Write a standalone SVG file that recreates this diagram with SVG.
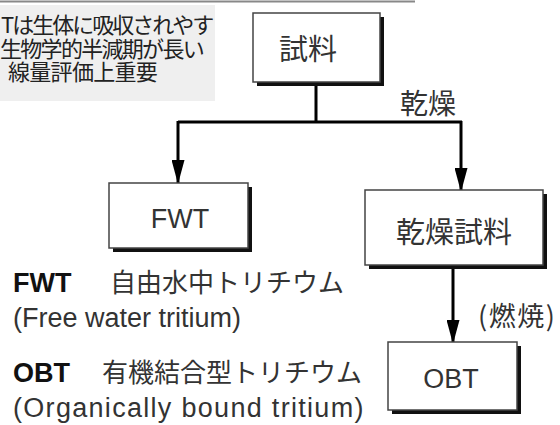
<svg xmlns="http://www.w3.org/2000/svg" width="560" height="425" viewBox="0 0 560 425">
<defs>
<style>
.jp{font-family:"Noto Sans CJK JP","Noto Sans",sans-serif;fill:#333}
.en{font-family:"Liberation Sans",Arial,sans-serif;fill:#333}
.box{fill:#fff;stroke:#444;stroke-width:1.5}
.sh{fill:#111}
.ln{stroke:#000;stroke-width:3;fill:none}
.note{font-family:"Noto Sans CJK JP","Noto Sans",sans-serif;fill:#222;font-size:22px}
</style>
<marker id="ah" markerWidth="24" markerHeight="13" refX="23" refY="6.5" orient="auto" markerUnits="userSpaceOnUse" viewBox="0 0 24 13">
<path d="M0,0 L24,6.5 L0,13 Z" fill="#000"/>
</marker>
</defs>
<rect width="560" height="425" fill="#fff"/>
<line x1="0" y1="1.5" x2="415" y2="1.5" stroke="#888" stroke-width="2"/>
<g id="note">
<rect x="0" y="5" width="215" height="96" fill="#efefef"/>
<text class="note" x="1" y="33" letter-spacing="-2">Tは生体に吸収されやす</text>
<text class="note" x="0" y="57" letter-spacing="-1.7">生物学的半減期が長い</text>
<text class="note" x="8" y="80" letter-spacing="-0.7">線量評価上重要</text>
</g>
<g id="connectors">
<path class="ln" d="M316,82 V122 M178,122 H462"/>
<path class="ln" d="M178,121 V183" marker-end="url(#ah)"/>
<path class="ln" d="M461,121 V191" marker-end="url(#ah)"/>
<path class="ln" d="M453,265 V343" marker-end="url(#ah)"/>
<text class="jp" x="400" y="114" font-size="28">乾燥</text>
<text class="jp" x="478" y="326" font-size="27" letter-spacing="1.5">(燃焼)</text>
</g>
<g id="shiryo">
<rect class="sh" x="257" y="17" width="127" height="69"/>
<rect class="box" x="253" y="13" width="127" height="69"/>
<text class="jp" x="308" y="60" font-size="29" text-anchor="middle">試料</text>
</g>
<g id="fwt">
<rect class="sh" x="113" y="187" width="139" height="65"/>
<rect class="box" x="109" y="183" width="139" height="65"/>
<text class="en" x="180" y="228" font-size="27" text-anchor="middle">FWT</text>
</g>
<g id="kansou-shiryo">
<rect class="sh" x="369" y="194" width="178" height="75"/>
<rect class="box" x="365" y="190" width="178" height="75"/>
<text class="jp" x="454" y="243" font-size="29" text-anchor="middle">乾燥試料</text>
</g>
<g id="obt">
<rect class="sh" x="392" y="346" width="129" height="68"/>
<rect class="box" x="388" y="342" width="129" height="68"/>
<text class="en" x="451" y="388" font-size="27" text-anchor="middle">OBT</text>
</g>
<g id="legend">
<text class="en" x="13" y="292" font-size="27" font-weight="bold" style="fill:#111">FWT</text>
<text class="jp" x="110" y="292" font-size="26">自由水中トリチウム</text>
<text class="en" x="13" y="327" font-size="27">(Free water tritium)</text>
<text class="en" x="13" y="382" font-size="27" font-weight="bold" style="fill:#111">OBT</text>
<text class="jp" x="102" y="382" font-size="26">有機結合型トリチウム</text>
<text class="en" x="13" y="417" font-size="27" letter-spacing="1.3">(Organically bound tritium)</text>
</g>
</svg>
